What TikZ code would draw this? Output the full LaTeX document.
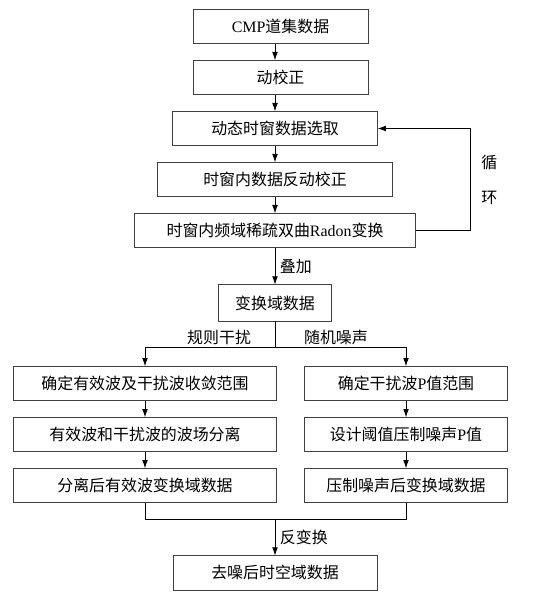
\documentclass[tikz,border=0pt]{standalone}
\usepackage{fontspec}
\setmainfont{Liberation Serif}
\newfontfamily\cjk{Noto Sans CJK SC}
\usetikzlibrary{positioning, arrows.meta}
\tikzset{
  box/.style = {
    rectangle, draw=black!75, line width=0.7pt, outer sep=0pt,
    minimum height=1.03cm, inner sep=2pt,
    text centered, font=\cjk\fontsize{13.6}{15}\selectfont,
  },
  lbl/.style = {inner sep=1pt, font=\cjk\fontsize{13.6}{15}\selectfont},
  arrow/.style = {line width=0.7pt, -{Latex[length=2.5mm, width=1.7mm]}},
  line/.style = {line width=0.7pt},
}

\begin{document}
\begin{tikzpicture}[node distance=0.5cm]
    \useasboundingbox (0,0) rectangle (16.71,-17.91);
    % --- Nodes ---
    \node[box, minimum width=5.25cm] (cmp) at (8.415,-0.795) {{\rmfamily CMP}道集数据};
    \node[box, minimum width=5.25cm, below=of cmp] (nmo) {动校正};
    \node[box, minimum width=6.15cm, below=of nmo, xshift=-0.165cm] (win) {动态时窗数据选取};
    \node[box, minimum width=7.05cm, below=of win] (inmo) {时窗内数据反动校正};
    \node[box, minimum width=8.43cm, below=of inmo] (radon) {时窗内频域稀疏双曲{\rmfamily Radon}变换};
    \node[box, minimum width=3.39cm, minimum height=1.1cm, below=1.11cm of radon] (tdom) {变换域数据};
    % left branch
    \node[box, minimum width=7.89cm, below=1.35cm of tdom, xshift=-3.9cm] (rngL) {确定有效波及干扰波收敛范围};
    \node[box, minimum width=7.89cm, below=of rngL] (sepL) {有效波和干扰波的波场分离};
    \node[box, minimum width=7.89cm, below=of sepL] (datL) {分离后有效波变换域数据};
    % right branch
    \node[box, minimum width=6.09cm, below=1.35cm of tdom, xshift=3.93cm] (rngR) {确定干扰波{\rmfamily P}值范围};
    \node[box, minimum width=6.09cm, below=of rngR] (thrR) {设计阈值压制噪声{\rmfamily P}值};
    \node[box, minimum width=6.09cm, below=of thrR] (datR) {压制噪声后变换域数据};
    \node[box, minimum width=6.12cm, below=1.59cm of datL, xshift=3.9cm] (out) {去噪后时空域数据};

    \coordinate[below=0.78cm of tdom.south] (split);
    \coordinate[below=0.5cm of datL.south] (busL);

    % --- Arrows ---
    \draw[arrow] (cmp.south -| win) -- (nmo.north -| win);
    \draw[arrow] (nmo.south -| win) -- (win);
    \draw[arrow] (win) -- (inmo);
    \draw[arrow] (inmo) -- (radon);
    \draw[arrow] (radon) -- node[lbl, right=0.1cm] (stack) {叠加} (tdom);
    % Loop back from Radon to window selection
    \draw[arrow] (radon.east) -- ++(1.65,0)
        |- node[lbl, pos=0.25, anchor=west, xshift=0.28cm, align=center] (loop) {循\\[0.52cm]环} (win.east);
    % Split into two branches
    \draw[arrow] (tdom) -- (split) -| (rngL.north);
    \draw[arrow] (split) -| (rngR.north);
    \node[lbl, above left=0.03cm and 0.68cm of split] (regular) {规则干扰};
    \node[lbl, above right=0.03cm and 0.83cm of split] (random) {随机噪声};
    \draw[arrow] (rngL) -- (sepL);
    \draw[arrow] (sepL) -- (datL);
    \draw[arrow] (rngR) -- (thrR);
    \draw[arrow] (thrR) -- (datR);
    % Merge and inverse transform
    \draw[line] (datL.south) -- (busL) -| (datR.south);
    \draw[arrow] (busL -| out) -- node[lbl, right=0.1cm] (inv) {反变换} (out);
  \end{tikzpicture}
\end{document}
